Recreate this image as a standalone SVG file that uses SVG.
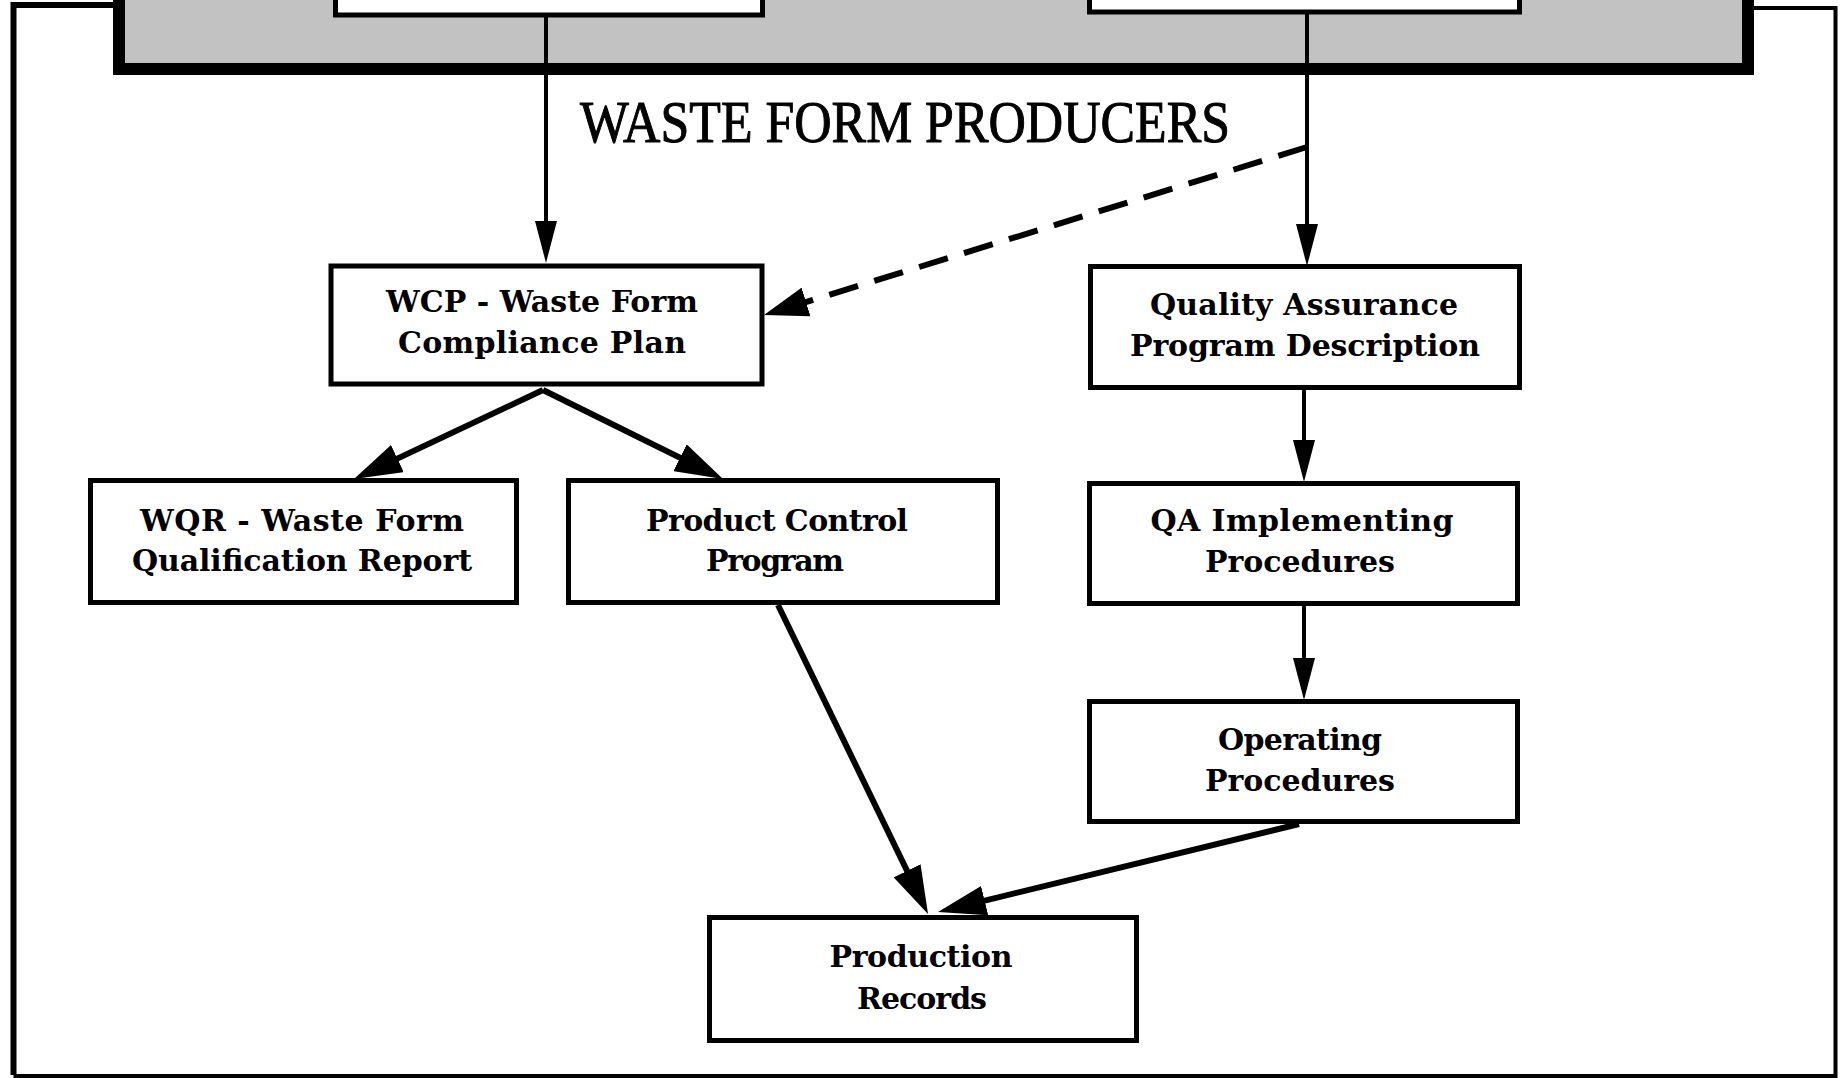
<svg xmlns="http://www.w3.org/2000/svg" width="1843" height="1078" viewBox="0 0 1843 1078">
<defs>
<style>
.box{fill:#fff;stroke:#000;stroke-width:5}
.lbl{font-family:"DejaVu Serif","Liberation Serif",serif;font-weight:bold;font-size:30px;fill:#000;text-anchor:middle}
.thin{stroke:#000;stroke-width:4;fill:none;marker-end:url(#headThin)}
.thick{stroke:#000;stroke-width:6;fill:none;marker-end:url(#headThick)}
.dash{stroke:#000;stroke-width:6;fill:none;stroke-dasharray:30 17;marker-end:url(#headDash)}
</style>
<marker id="headThin" markerUnits="userSpaceOnUse" viewBox="0 -11 42 22" markerWidth="42" markerHeight="22" refX="17" refY="0" orient="auto">
<path d="M0,-11 L42,0 L0,11 Z" fill="#000"/>
</marker>
<marker id="headThick" markerUnits="userSpaceOnUse" viewBox="0 -15 48 30" markerWidth="48" markerHeight="30" refX="23" refY="0" orient="auto">
<path d="M0,-15 L48,0 L0,15 Z" fill="#000"/>
</marker>
<marker id="headDash" markerUnits="userSpaceOnUse" viewBox="0 -15 44 30" markerWidth="44" markerHeight="30" refX="19" refY="0" orient="auto">
<path d="M0,-15 L44,0 L0,15 Z" fill="#000"/>
</marker>
</defs>
<rect x="0" y="0" width="1843" height="1078" fill="#fff"/>
<g id="frame" fill="none" stroke="#000">
<path d="M13.5,1075 V5 H116" stroke-width="6"/>
<path d="M1752,8 H1835.5 V1076 H13.5" stroke-width="4"/>
</g>
<g id="header">
<rect x="119" y="-10" width="1629" height="79" fill="#c2c2c2" stroke="#000" stroke-width="12"/>
<rect x="335.5" y="-10" width="427" height="25" fill="#fff" stroke="#000" stroke-width="5"/>
<rect x="1089.5" y="-10" width="430" height="22" fill="#fff" stroke="#000" stroke-width="5"/>
</g>
<g id="title">
<text x="580" y="142" font-family="Liberation Serif, serif" font-size="60" fill="#000" stroke="#000" stroke-width="1" textLength="650" lengthAdjust="spacingAndGlyphs">WASTE FORM PRODUCERS</text>
</g>
<g id="connectors">
<line class="thin" x1="546" y1="17" x2="546" y2="238"/>
<line class="thin" x1="1307" y1="14" x2="1307" y2="241"/>
<line class="dash" x1="1307" y1="147" x2="787.9" y2="307.6"/>
<line class="thick" x1="543" y1="390" x2="376.6" y2="468.4"/>
<line class="thick" x1="543" y1="390" x2="700.6" y2="467.9"/>
<line class="thick" x1="778" y1="605" x2="917.1" y2="891.5"/>
<line class="thick" x1="1299" y1="824" x2="962.3" y2="906.1"/>
<line class="thin" x1="1304" y1="389" x2="1304" y2="457"/>
<line class="thin" x1="1304" y1="605" x2="1304" y2="675"/>
</g>
<g id="wcp">
<rect class="box" x="331" y="266" width="431" height="118"/>
<text class="lbl" x="542" y="312" textLength="312">WCP - Waste Form</text>
<text class="lbl" x="542" y="353" textLength="288">Compliance Plan</text>
</g>
<g id="wqr">
<rect class="box" x="90.5" y="480.5" width="426" height="122"/>
<text class="lbl" x="302" y="531" textLength="324">WQR - Waste Form</text>
<text class="lbl" x="302" y="571" textLength="340">Qualification Report</text>
</g>
<g id="pcp">
<rect class="box" x="568.5" y="480.5" width="429" height="122"/>
<text class="lbl" x="777" y="531" textLength="262">Product Control</text>
<text class="lbl" x="775" y="571" textLength="138">Program</text>
</g>
<g id="qapd">
<rect class="box" x="1090.5" y="266.5" width="429" height="121"/>
<text class="lbl" x="1304" y="315" textLength="308">Quality Assurance</text>
<text class="lbl" x="1305" y="356" textLength="350">Program Description</text>
</g>
<g id="qaip">
<rect class="box" x="1089.5" y="483.5" width="428" height="120"/>
<text class="lbl" x="1302" y="531" textLength="303">QA Implementing</text>
<text class="lbl" x="1300" y="572" textLength="190">Procedures</text>
</g>
<g id="op">
<rect class="box" x="1089.5" y="701.5" width="428" height="120"/>
<text class="lbl" x="1300" y="750" textLength="164">Operating</text>
<text class="lbl" x="1300" y="791" textLength="190">Procedures</text>
</g>
<g id="pr">
<rect class="box" x="709.5" y="917.5" width="427" height="123"/>
<text class="lbl" x="921" y="967" textLength="183">Production</text>
<text class="lbl" x="922" y="1009" textLength="130">Records</text>
</g>
</svg>
